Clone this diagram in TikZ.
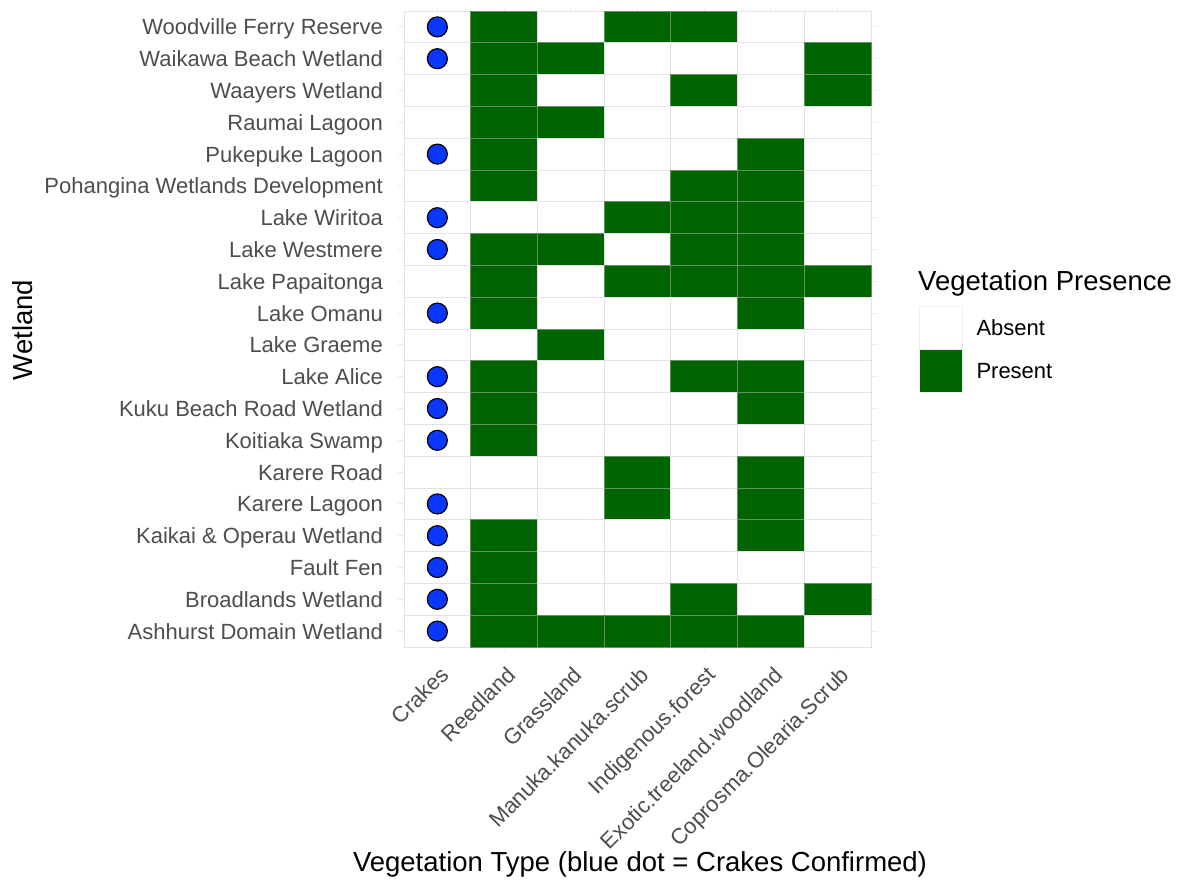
\documentclass[tikz,border=0pt]{standalone}
\usepackage{fontspec}
\setmainfont{Liberation Sans}
\usepackage{tikz}
\usetikzlibrary{
    positioning,
    calc
}

\definecolor{presentgreen}{RGB}{0,100,0}
\definecolor{crakeblue}{RGB}{10,55,255}
\definecolor{labelgray}{RGB}{77,77,77}
\newcommand{\cellw}{66.71}
\newcommand{\cellh}{31.8}

\begin{document}
\begin{tikzpicture}[
            x=1pt, y=-1pt,
            grid_line/.style={line width=1pt, black!8},
            tile_0/.style={rectangle, draw=black!11, fill=white, line width=0.8pt, minimum width=\cellw pt, minimum height=\cellh pt, inner sep=0pt},
            tile_1/.style={tile_0, draw={rgb,255:red,100;green,145;blue,100}, fill=presentgreen},
            crake_dot/.style={circle, draw=black, fill=crakeblue, line width=1.2pt, minimum size=20pt, inner sep=0pt},
            row_label/.style={anchor=base east, inner sep=0pt, text=labelgray, font=\fontsize{22}{26}\selectfont},
            col_label/.style={anchor=north east, rotate=45, inner sep=0pt, text=labelgray, font=\fontsize{22}{26}\selectfont},
            axis_title/.style={inner sep=0pt, font=\fontsize{27.5}{32}\selectfont},
            key_box/.style={rectangle, minimum size=43pt, inner sep=0pt, line width=0.6pt},
            legend_text/.style={inner sep=0pt, anchor=west, font=\fontsize{22}{26}\selectfont}
        ]

        \useasboundingbox (0,0) rectangle (1184,886);

        % grid lines behind the tiles
        \foreach \j in {1,...,7}
            \draw[grid_line] ({404+\cellw*(\j-0.5)}, 7.8) -- ++(0, 642.4);
        \foreach \i in {1,...,20}
            \draw[grid_line] (397.5, {11+\cellh*(\i-0.5)}) -- ++(480.2, 0);

        % one row per wetland: crakes flag, then reed/grass/manuka/indigenous/exotic/coprosma
        \foreach \i/\crk/\a/\b/\c/\d/\e/\f/\site in {
            1/1/1/0/1/1/0/0/Woodville Ferry Reserve,
            2/1/1/1/0/0/0/1/Waikawa Beach Wetland,
            3/0/1/0/0/1/0/1/Waayers Wetland,
            4/0/1/1/0/0/0/0/Raumai Lagoon,
            5/1/1/0/0/0/1/0/Pukepuke Lagoon,
            6/0/1/0/0/1/1/0/Pohangina Wetlands Development,
            7/1/0/0/1/1/1/0/Lake Wiritoa,
            8/1/1/1/0/1/1/0/Lake Westmere,
            9/0/1/0/1/1/1/1/Lake Papaitonga,
            10/1/1/0/0/0/1/0/Lake Omanu,
            11/0/0/1/0/0/0/0/Lake Graeme,
            12/1/1/0/0/1/1/0/Lake Alice,
            13/1/1/0/0/0/1/0/Kuku Beach Road Wetland,
            14/1/1/0/0/0/0/0/Koitiaka Swamp,
            15/0/0/0/1/0/1/0/Karere Road,
            16/1/0/0/1/0/1/0/Karere Lagoon,
            17/1/1/0/0/0/1/0/Kaikai \& Operau Wetland,
            18/1/1/0/0/0/0/0/Fault Fen,
            19/1/1/0/0/1/0/1/Broadlands Wetland,
            20/1/1/1/1/1/1/0/Ashhurst Domain Wetland}{
            \node[row_label] (wetland_\i) at (383, {11+\cellh*(\i-0.5)+7.9}) {\site};
            \node[tile_0] (cell_\i_1) at (437.36, {11+\cellh*(\i-0.5)}) {};
            \foreach \v [count=\k from 2] in {\a,\b,\c,\d,\e,\f}
                \node[tile_\v] (cell_\i_\k) at ({404+\cellw*(\k-0.5)}, {11+\cellh*(\i-0.5)}) {};
            \ifnum\crk=1
                \node[crake_dot] (crake_\i) at (cell_\i_1) {};
            \fi
        }

        \foreach \j/\veg in {1/Crakes, 2/Reedland, 3/Grassland, 4/Manuka.kanuka.scrub,
                5/Indigenous.forest, 6/Exotic.treeland.woodland, 7/Coprosma.Olearia.Scrub}
            \node[col_label] (veg_\j) at ({404+\cellw*(\j-0.5)+1.5}, 665) {\veg};

        \node[axis_title, anchor=base] (x_title) at (640, 871) {Vegetation Type (blue dot = Crakes Confirmed)};
        \node[axis_title, rotate=90] (y_title) at (23, 330) {Wetland};

        % legend
        \node[axis_title, anchor=base west] (legend_title) at (918, 290) {Vegetation Presence};
        \node[key_box, draw=black!7, fill=white] (key_absent) at (940.5, 327.5) {};
        \node[key_box, draw=black!7, fill=presentgreen, below=0pt of key_absent] (key_present) {};
        \node[legend_text, right=14pt of key_absent] (absent_label) {Absent};
        \node[legend_text, right=14pt of key_present] (present_label) {Present};

\end{tikzpicture}
\end{document}
